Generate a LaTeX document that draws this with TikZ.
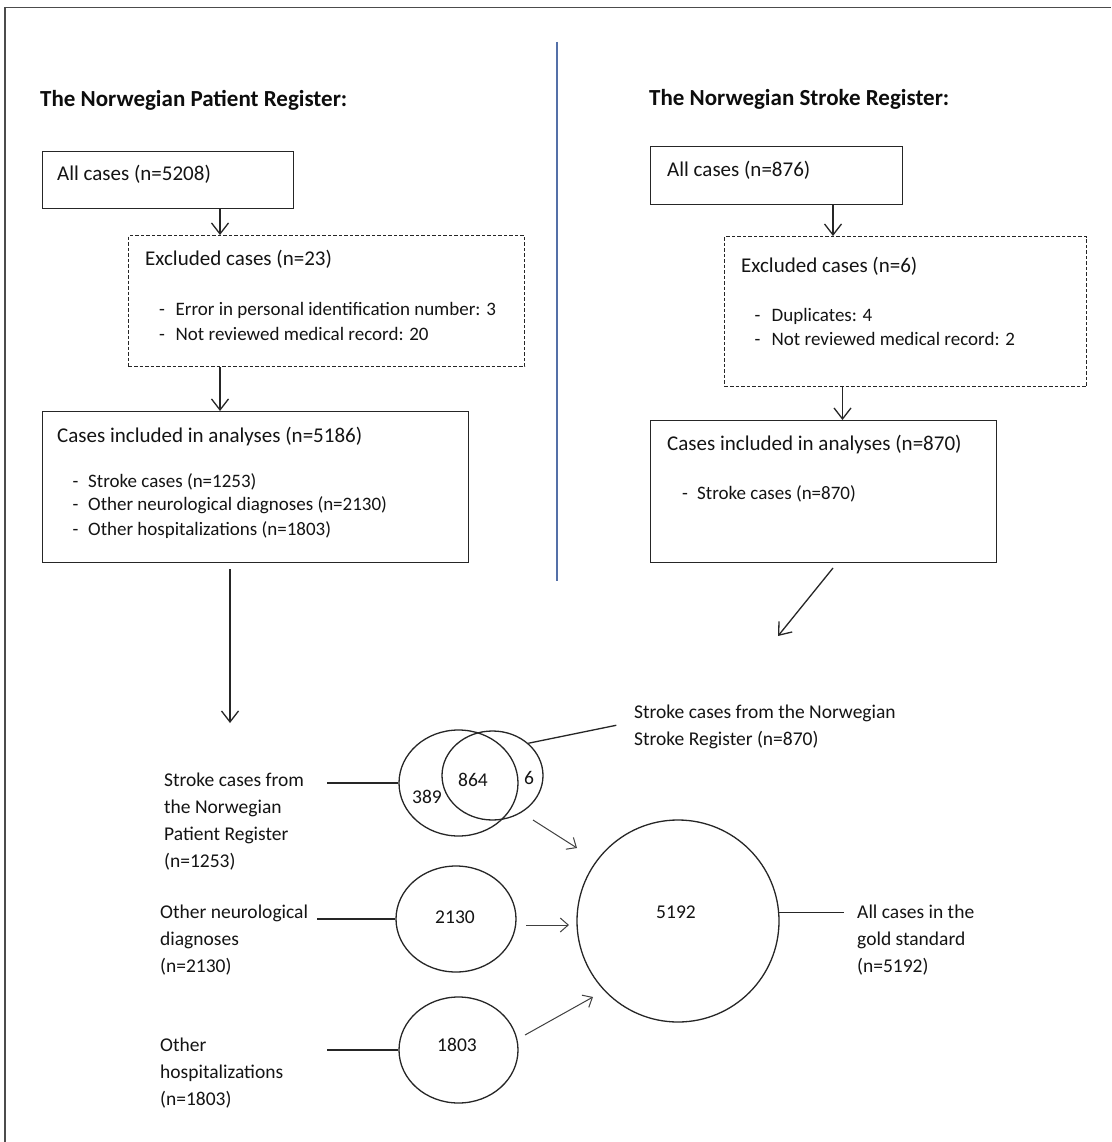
\documentclass[tikz,border=0pt]{standalone}
\usepackage{fontspec}
\setmainfont{Carlito}
\usetikzlibrary{arrows.meta,shapes.geometric,calc}
\begin{document}
\begin{tikzpicture}[x=1pt,y=-1pt,
  ln/.style={line width=1.3pt, draw=black!85},
  box/.style={ln, rectangle, inner sep=0pt, anchor=north west},
  dbox/.style={box, dash pattern=on 3.5pt off 2pt},
  arr/.style={ln, -{Straight Barb[length=11pt,width=17pt]}},
  arrs/.style={line width=1pt, draw=black!75, -{Straight Barb[length=8pt,width=14pt]}},
  txt/.style={anchor=base west, inner sep=0pt, font=\fontsize{21}{24}\selectfont, text=black!92},
  btxt/.style={anchor=base west, inner sep=0pt, font=\fontsize{19}{23}\selectfont, text=black!92},
  ttl/.style={anchor=base west, inner sep=0pt, font=\fontsize{23}{28}\selectfont\bfseries, text=black!95},
  lbl/.style={anchor=base west, inner sep=0pt, font=\fontsize{19.5}{27}\selectfont, text=black!92},
  num/.style={inner sep=0pt, font=\fontsize{19.5}{24}\selectfont, text=black!92},
  ell/.style={ln, ellipse, inner sep=0pt},
]
\useasboundingbox (0,0) rectangle (1111,1142);
\fill[white] (0,0) rectangle (1111,1142);
% frame
\draw[line width=1.4pt, black!70] (5,1142) -- (5,7.5) -- (1111,7.5);
% divider
\draw[line width=2pt, draw={rgb,255:red,84;green,112;blue,168}] (557,42) -- (557,581);

% titles
\node[ttl] (t1) at (40,106.5) {The Norwegian Patient Register:};
\node[ttl] (t2) at (649,105.5) {The Norwegian Stroke Register:};

% left column
\node[box, minimum width=251, minimum height=57] (a1) at (42,151) {};
\node[txt] (a1t) at (57,180) {All cases (n=5208)};

\node[dbox, minimum width=396, minimum height=131] (a2) at (128,235) {};
\node[txt] (a2t) at (145,265) {Excluded cases (n=23)};
\node[btxt] (a2b1) at (159,315) {\makebox[16.5pt][l]{-}Error in personal identification number: 3};
\node[btxt] (a2b2) at (159,340) {\makebox[16.5pt][l]{-}Not reviewed medical record: 20};

\node[box, minimum width=426, minimum height=151] (a3) at (42,411) {};
\node[txt] (a3t) at (57,442) {Cases included in analyses (n=5186)};
\node[btxt] (a3b1) at (72.5,487) {\makebox[15.5pt][l]{-}Stroke cases (n=1253)};
\node[btxt] (a3b2) at (72.5,510.5) {\makebox[15.5pt][l]{-}Other neurological diagnoses (n=2130)};
\node[btxt] (a3b3) at (72.5,535) {\makebox[15.5pt][l]{-}Other hospitalizations (n=1803)};

% right column
\node[box, minimum width=252, minimum height=58] (b1) at (650,146) {};
\node[txt] (b1t) at (667,176) {All cases (n=876)};

\node[dbox, minimum width=362, minimum height=150] (b2) at (724,236) {};
\node[txt] (b2t) at (741,272) {Excluded cases (n=6)};
\node[btxt] (b2b1) at (754.5,321.5) {\makebox[17pt][l]{-}Duplicates: 4};
\node[btxt] (b2b2) at (754.5,345) {\makebox[17pt][l]{-}Not reviewed medical record: 2};

\node[box, minimum width=346, minimum height=142] (b3) at (650,420) {};
\node[txt] (b3t) at (667,450) {Cases included in analyses (n=870)};
\node[btxt] (b3b1) at (682,499) {\makebox[15pt][l]{-}Stroke cases (n=870)};

% flow arrows
\coordinate (xa) at (220,0);
\coordinate (xb1) at (833,0);
\coordinate (xb2) at (842.5,0);
\draw[arr] (a1.south -| xa) -- (a2.north -| xa);
\draw[arr] (a2.south -| xa) -- (a3.north -| xa);
\draw[arr] (b1.south -| xb1) -- (b2.north -| xb1);
\draw[arr] (b2.south -| xb2) -- (b3.north -| xb2);

\coordinate (e1) at (230,723);
\draw[arr, shorten <=6pt] (e1 |- a3.south) -- (e1);
\coordinate (e2) at (778,636);
\coordinate (s2) at (833,568);
\draw[arr] (s2) -- (e2);

% Venn and circles
\node[ell, minimum width=119, minimum height=106] (vl) at (458.5,783) {};
\node[ell, minimum width=101, minimum height=89] (vr) at (492.5,775.5) {};
\node[num] (n389) at (427,797) {389};
\node[num] (n864) at (473,780) {864};
\node[num] (n6) at (529,778) {6};

\node[ell, minimum width=120, minimum height=106] (c2) at (456,919) {};
\node[num] (n2130) at (455,917) {2130};
\node[ell, minimum width=119, minimum height=106] (c3) at (458.5,1050) {};
\node[num] (n1803) at (457,1045) {1803};

\node[ell, minimum width=202, minimum height=202] (big) at (678,921) {};
\node[num] (n5192) at (676,912) {5192};

% labels
\node[lbl] (l1) at (164,786.5) {\begin{tabular}[t]{@{}l@{}}Stroke cases from\\the Norwegian\\Patient Register\\(n=1253)\end{tabular}};
\node[lbl] (l2) at (634,718.5) {\begin{tabular}[t]{@{}l@{}}Stroke cases from the Norwegian\\Stroke Register (n=870)\end{tabular}};
\node[lbl] (l3) at (160,918.5) {\begin{tabular}[t]{@{}l@{}}Other neurological\\diagnoses\\(n=2130)\end{tabular}};
\node[lbl] (l4) at (160,1051.5) {\begin{tabular}[t]{@{}l@{}}Other\\hospitalizations\\(n=1803)\end{tabular}};
\node[lbl] (l5) at (857,918.5) {\begin{tabular}[t]{@{}l@{}}All cases in the\\gold standard\\(n=5192)\end{tabular}};

% connectors
\draw[ln] (vl.west) -- ++(-71,0);
\draw[ln] (vr.42) -- ++(88,-18);
\draw[ln] (c2.west) -- ++(-78,0);
\draw[ln] (c3.west) -- ++(-71,0);
\draw[ln] (big.5) -- ++(65,0);

% arrows into the gold standard
\coordinate (f1s) at (533,820);
\coordinate (f1e) at (577,848);
\coordinate (f2s) at (526,925);
\coordinate (f2e) at (569,925);
\coordinate (f3s) at (525,1035);
\coordinate (f3e) at (593,997);
\draw[arrs] (f1s) -- (f1e);
\draw[arrs] (f2s) -- (f2e);
\draw[arrs] (f3s) -- (f3e);
\end{tikzpicture}
\end{document}
